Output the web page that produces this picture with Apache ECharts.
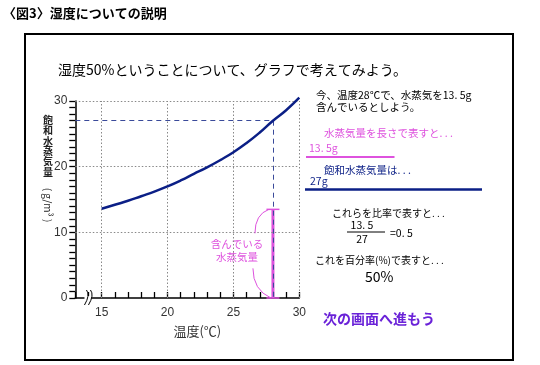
<!DOCTYPE html>
<html><head><meta charset="utf-8">
<script src="https://cdn.jsdelivr.net/npm/echarts@6/dist/echarts.min.js"></script>
<style>html,body{margin:0;padding:0;background:#fff}#c{width:540px;height:365px}</style>
</head><body><div id="c"></div>
<script>
// ---- data ----
const temps = [15,16,17,18,19,20,21,22,23,24,25,26,27,28,29,30];
const satVapor = [13.6,14.2,14.8,15.5,16.2,17.0,17.9,18.9,19.9,21.0,22.2,23.6,25.2,27.0,28.6,30.5];
const xTickLabels = [15,20,25,30];
const yTickLabels = [0,10,20,30];
const currentTemp = 28;
const containedVapor = 13.5;
const satAtTemp = 27;
const ratioValue = 0.5;
const percentValue = 50;
const barValues = [containedVapor, satAtTemp];

const FONT = '"Noto Sans CJK JP", sans-serif';
const NAVY = '#0b1f86';
const MAGENTA = '#de52de';

const chart = echarts.init(document.getElementById('c'), null, {renderer:'canvas'});

const gridLines = [];
xTickLabels.forEach(v => gridLines.push({xAxis: v}));
yTickLabels.filter(v => v > 0).forEach(v => gridLines.push({yAxis: v}));

chart.setOption({
  animation: false,
  backgroundColor: '#fff',
  textStyle: {fontFamily: FONT},
  grid: {left: 75.3, top: 101, width: 224, height: 197, outerBoundsMode: 'none', containLabel: false},
  xAxis: {
    type: 'value', min: 13, max: 30, interval: 1,
    axisLine: {lineStyle: {color: '#000', width: 1.5}},
    axisTick: {inside: true, length: 6, lineStyle: {color: '#000', width: 1.3}},
    axisLabel: {formatter: v => (v >= 15 && v % 5 === 0) ? String(v) : '', fontSize: 12, color: '#333', margin: 9, hideOverlap: false, fontFamily: 'Arial, sans-serif'},
    splitLine: {show: false},
    name: '温度(℃)', nameLocation: 'middle', nameGap: 27,
    nameTextStyle: {fontSize: 13, color: '#333', padding: [0,0,0,20], fontFamily: FONT}
  },
  yAxis: {
    type: 'value', min: 0, max: 30, interval: 1,
    axisLine: {lineStyle: {color: '#000', width: 1.5}},
    axisTick: {inside: false, length: 6, lineStyle: {color: '#000', width: 1.3}},
    axisLabel: {formatter: v => (v % 10 === 0) ? String(v) : '', fontSize: 12, color: '#333', margin: 8, hideOverlap: false, fontFamily: 'Arial, sans-serif'},
    splitLine: {show: false}
  },
  series: [
    {
      type: 'line', z: 1, data: [[30, 30]], symbol: 'none', lineStyle: {opacity: 0}, silent: true,
      markLine: {silent: true, symbol: 'none', label: {show: false},
        lineStyle: {color: '#888', type: [1.5, 2], width: 1}, data: gridLines}
    },
    {
      type: 'line', z: 3, data: [[currentTemp, 0], [currentTemp, containedVapor]],
      symbol: 'rect', symbolSize: [13, 1.5], showSymbol: true,
      itemStyle: {color: MAGENTA}, lineStyle: {color: MAGENTA, width: 3}, silent: true
    },
    {
      type: 'line', z: 5, smooth: true, clip: false, symbol: 'none',
      data: temps.map((t, i) => [t, satVapor[i]]),
      lineStyle: {color: NAVY, width: 2.5}, silent: true
    },
    {
      type: 'line', z: 6, data: [[currentTemp, satAtTemp]], symbol: 'none', lineStyle: {opacity: 0}, silent: true,
      markLine: {silent: true, symbol: 'none', label: {show: false},
        lineStyle: {color: '#3a4a9a', type: [5, 4], width: 1},
        data: [
          [{coord: [13, satAtTemp]}, {coord: [currentTemp, satAtTemp]}],
          [{coord: [currentTemp, satAtTemp]}, {coord: [currentTemp, 0]}]
        ]}
    }
  ]
});

// ---- annotations ----
const p = (x, y) => chart.convertToPixel({xAxisIndex: 0, yAxisIndex: 0}, [x, y]);
const capTop = p(currentTemp, containedVapor);
const capBot = p(currentTemp, 0);
const brk = p(14, 0);
const k = 177 / satAtTemp; // px per gram for the comparison bars
const txt = (x, y, s, size, color, extra) => ({
  type: 'text', x: x, y: y,
  style: Object.assign({text: s, fontSize: size, fill: color, fontFamily: FONT, verticalAlign: 'middle', align: 'left'}, extra || {})
});

const graphics = [
  {type: 'rect', shape: {x: 25, y: 34, width: 488, height: 326}, style: {fill: 'none', stroke: '#000', lineWidth: 2}, z: 0},
  txt(3, 13, '〈図3〉湿度についての説明', 13, '#000', {fontWeight: 'bold'}),
  txt(58, 70, '湿度50%ということについて、グラフで考えてみよう。', 14, '#000'),
  txt(48, 146, '飽\n和\n水\n蒸\n気\n量', 10, '#222', {align: 'center', lineHeight: 10.3, fontWeight: 'bold'}),
  {type: 'text', x: 48, y: 205, rotation: -Math.PI / 2,
   style: {text: '( g/m³ )', fontSize: 10, fill: '#222', fontFamily: FONT, align: 'center', verticalAlign: 'middle'}},
  {type: 'rect', shape: {x: brk[0] - 4, y: brk[1] - 2, width: 7, height: 4}, style: {fill: '#fff'}, z: 10},
  {type: 'bezierCurve', shape: {x1: brk[0] - 2, y1: brk[1] - 8, x2: brk[0] - 4, y2: brk[1] + 7, cpx1: brk[0] + 2, cpy1: brk[1] - 3}, style: {stroke: '#000', lineWidth: 1, fill: 'none'}, z: 11},
  {type: 'bezierCurve', shape: {x1: brk[0] + 2, y1: brk[1] - 8, x2: brk[0], y2: brk[1] + 7, cpx1: brk[0] + 6, cpy1: brk[1] - 3}, style: {stroke: '#000', lineWidth: 1, fill: 'none'}, z: 11},
  txt(capTop[0] - 36, capTop[1] + 41, '含んでいる\n水蒸気量', 10.5, MAGENTA, {align: 'center', lineHeight: 13}),
  {type: 'bezierCurve', shape: {x1: capTop[0] - 4, y1: capTop[1], x2: capTop[0] - 18, y2: capTop[1] + 24, cpx1: capTop[0] - 18, cpy1: capTop[1] + 5}, style: {stroke: MAGENTA, lineWidth: 1, fill: 'none'}, z: 10},
  {type: 'bezierCurve', shape: {x1: capTop[0] - 20, y1: capTop[1] + 59, x2: capTop[0] - 2, y2: capBot[1], cpx1: capTop[0] - 20, cpy1: capBot[1] - 8}, style: {stroke: MAGENTA, lineWidth: 1, fill: 'none'}, z: 10},
  txt(316, 95, '今、温度28℃で、水蒸気を13. 5g', 10.5, '#000'),
  txt(316, 107, '含んでいるとしよう。', 10.5, '#000'),
  txt(324, 133, '水蒸気量を長さで表すと. . .', 10.5, MAGENTA),
  txt(309, 148, '13. 5g', 10.5, MAGENTA),
  {type: 'line', shape: {x1: 306, y1: 157, x2: 306 + barValues[0] * k, y2: 157}, style: {stroke: MAGENTA, lineWidth: 2}},
  txt(324, 170, '飽和水蒸気量は. . .', 10.5, NAVY),
  txt(310, 181, '27g', 10.5, NAVY),
  {type: 'line', shape: {x1: 305, y1: 189.5, x2: 305 + barValues[1] * k, y2: 189.5}, style: {stroke: NAVY, lineWidth: 2.5}},
  txt(332, 213, 'これらを比率で表すと. . .', 10, '#000'),
  txt(362, 225, '13. 5', 10.5, '#000', {align: 'center'}),
  {type: 'line', shape: {x1: 347, y1: 232, x2: 385, y2: 232}, style: {stroke: '#000', lineWidth: 1}},
  txt(362, 239, '27', 10.5, '#000', {align: 'center'}),
  txt(390, 233, '=0. 5', 10.5, '#000'),
  txt(315, 260, 'これを百分率(%)で表すと. . .', 10, '#000'),
  txt(365, 277, percentValue + '%', 14, '#000'),
  txt(323, 319, '次の画面へ進もう', 14, '#6a22d8', {fontWeight: 'bold'})
];
chart.setOption({graphic: graphics});
</script></body></html>
